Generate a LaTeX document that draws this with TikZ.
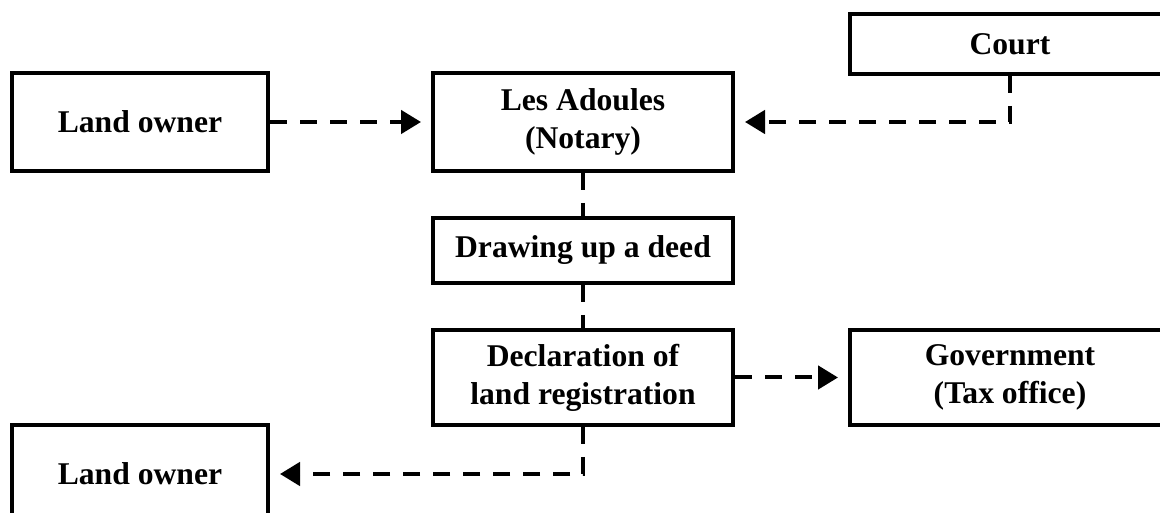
\documentclass[tikz,border=0pt]{standalone}
\usepackage{fontspec}
\setmainfont{Liberation Serif}
\usetikzlibrary{positioning,arrows.meta}

\begin{document}
\begin{tikzpicture}
%styles
	\tikzset{
	box/.style={draw, line width=0.1cm, align=center, inner sep=0pt,
		font=\fontsize{22.5}{27}\selectfont\bfseries},
	link/.style={line width=0.1cm, dash pattern=on 0.43cm off 0.32cm},
	arrow/.style={link, -{Triangle[length=0.5cm,width=0.58cm]}, shorten >=0.25cm}}

	%Rahmen
	\useasboundingbox (0,0) rectangle (29,12.825);
	\clip (0,0) rectangle (29,12.825);

%links
	\node[box, minimum width=6.4cm, minimum height=2.45cm] (owner) at (3.5,9.775) {Land owner};
	\node[box, minimum width=6.4cm, minimum height=2.45cm] (owner2) at (3.5,0.975) {Land owner};

%mitte
	\node[box, minimum width=7.5cm, minimum height=2.45cm] (adoul) at (14.575,9.775) {Les Adoules\\(Notary)};
	\node[box, minimum width=7.5cm, minimum height=1.625cm] (deed) at (14.575,6.5625) {Drawing up a deed};
	\node[box, minimum width=7.5cm, minimum height=2.375cm] (decl) at (14.575,3.3875) {Declaration of\\land registration};

%rechts
	\node[box, minimum width=8cm, minimum height=1.5cm] (court) at (25.25,11.725) {Court};
	\node[box, minimum width=8cm, minimum height=2.375cm] (gov) at (25.25,3.3875) {Government\\(Tax office)};

%Pfeile
	\draw[arrow] (owner.east) -- (adoul.west);
	\draw[arrow] (court.south) |- (adoul.east);
	\draw[link] (adoul) -- (deed);
	\draw[link] (deed) -- (decl);
	\draw[arrow] (decl.east) -- (gov.west);
	\draw[arrow] (decl.south) |- (owner2.east);

\end{tikzpicture}
\end{document}
